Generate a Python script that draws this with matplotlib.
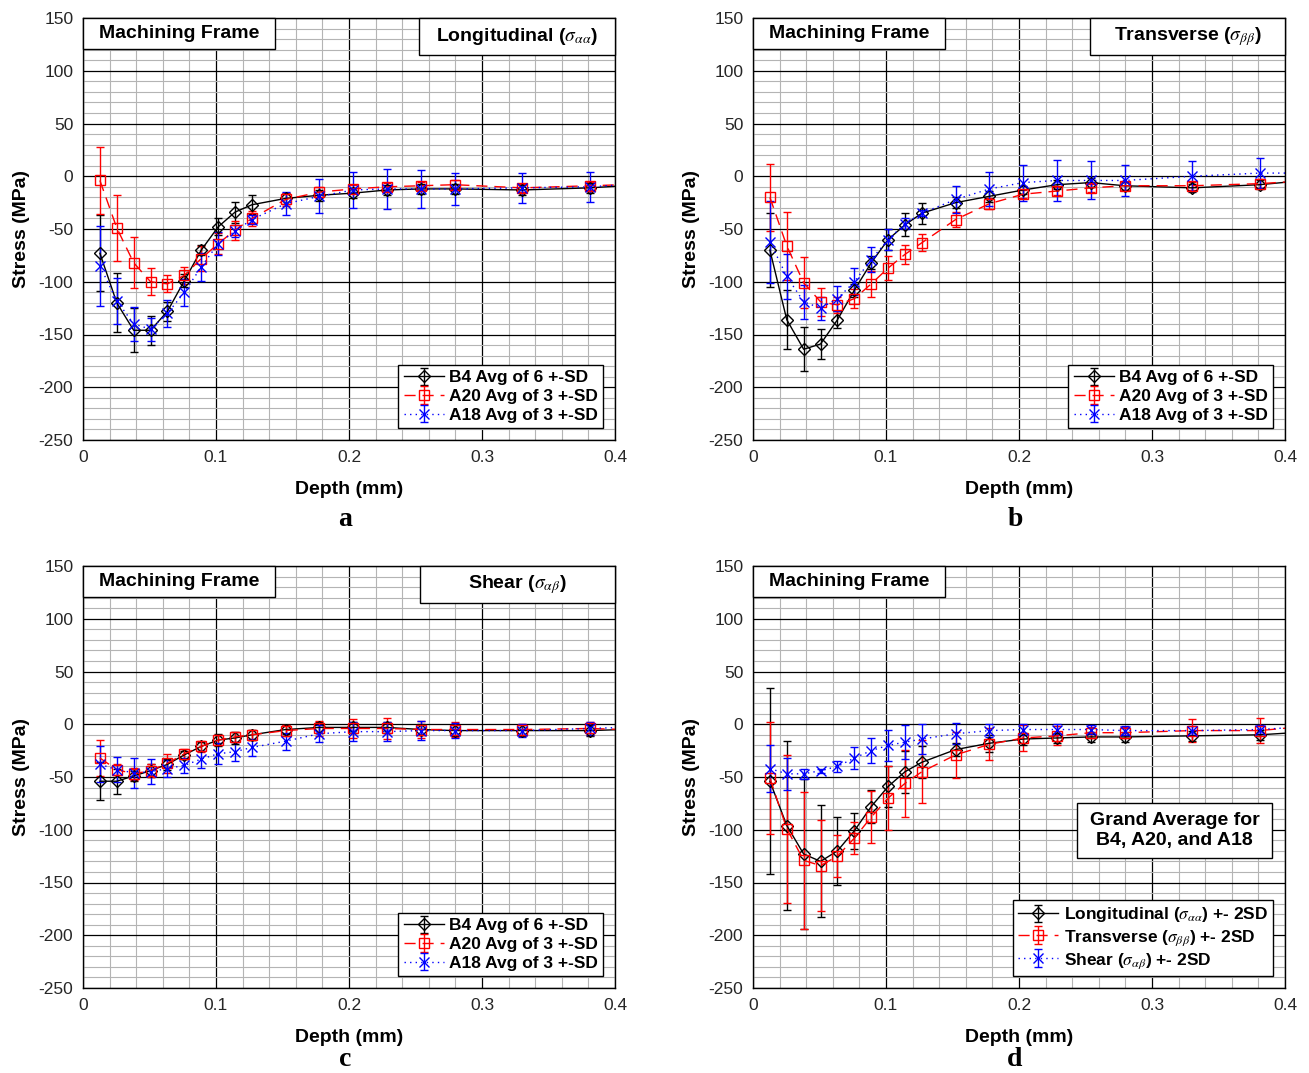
import matplotlib
matplotlib.use('Agg')
import matplotlib.pyplot as plt
from matplotlib.ticker import MultipleLocator
from matplotlib.patches import Rectangle

plt.rcParams['font.family'] = ['Liberation Sans', 'DejaVu Sans']
plt.rcParams['mathtext.fontset'] = 'stix'
plt.rcParams['axes.unicode_minus'] = False

# depth of each measurement (mm); last point lies past the axis limit
depth = [0.0127, 0.0254, 0.0381, 0.0508, 0.0635, 0.0762, 0.0889, 0.1016, 0.1143, 0.1270,
         0.1524, 0.1778, 0.2032, 0.2286, 0.2540, 0.2794, 0.3302, 0.3810, 0.4064]

x_ticks = [0, 0.1, 0.2, 0.3, 0.4]
x_ticklabels = ['0', '0.1', '0.2', '0.3', '0.4']

# a - longitudinal
b4_long = [-73, -120, -146, -146, -128, -99, -70, -48, -34, -27, -21, -18, -16, -13, -12, -12, -13, -11, -9]
b4_long_sd = [36, 28, 21, 14, 9, 6, 5, 8, 10, 9, 5, 5, 5, 5, 5, 5, 5, 5, 0]
a20_long = [-4, -49, -82, -100, -102, -94, -78, -64, -51, -40, -22, -15, -12, -10, -9, -8, -11, -9, -8]
a20_long_sd = [32, 31, 24, 13, 8, 8, 12, 10, 9, 7, 6, 5, 4, 4, 4, 4, 4, 4, 0]
a18_long = [-85, -118, -140, -145, -130, -110, -86, -64, -52, -41, -26, -19, -13, -12, -12, -12, -11, -10, -8]
a18_long_sd = [38, 22, 16, 11, 13, 13, 13, 11, 6, 4, 11, 16, 17, 19, 18, 15, 14, 14, 0]

# b - transverse
b4_trans = [-70, -136, -164, -159, -136, -108, -82, -60, -46, -35, -25, -19, -13, -8, -6, -9, -11, -8, -5]
b4_trans_sd = [35, 28, 21, 14, 8, 6, 6, 10, 11, 10, 5, 5, 4, 4, 4, 4, 4, 4, 0]
a20_trans = [-20, -66, -101, -119, -122, -116, -102, -87, -74, -63, -41, -26, -17, -14, -11, -9, -9, -7, -5]
a20_trans_sd = [32, 32, 24, 13, 8, 9, 12, 11, 9, 8, 7, 5, 4, 4, 4, 4, 4, 4, 0]
a18_trans = [-62, -95, -119, -125, -116, -100, -79, -60, -45, -35, -22, -12, -6, -4, -4, -4, 0, 3, 3]
a18_trans_sd = [39, 21, 16, 11, 12, 13, 12, 10, 5, 3, 13, 16, 17, 19, 18, 15, 14, 14, 0]

# c - shear
b4_shear = [-54, -54, -49, -44, -38, -29, -21, -15, -13, -10, -5, -3, -3, -3, -5, -6, -6, -6, -5]
b4_shear_sd = [18, 12, 5, 6, 5, 4, 4, 6, 6, 5, 4, 5, 5, 5, 5, 5, 5, 5, 0]
a20_shear = [-32, -43, -47, -44, -37, -28, -21, -15, -12, -10, -6, -4, -4, -4, -5, -5, -5, -4, -5]
a20_shear_sd = [17, 5, 6, 6, 9, 5, 5, 5, 5, 5, 5, 7, 9, 10, 8, 7, 5, 6, 0]
a18_shear = [-38, -43, -46, -45, -42, -39, -33, -28, -26, -22, -16, -9, -7, -7, -6, -6, -6, -4, -3]
a18_shear_sd = [17, 12, 14, 12, 8, 7, 8, 10, 9, 8, 8, 8, 9, 9, 9, 7, 6, 6, 0]

# d - grand average (+- 2SD)
long_avg = [-54, -96, -123, -130, -120, -101, -78, -59, -45, -36, -24, -18, -14, -13, -12, -12, -11, -10, -8]
long_2sd = [88, 80, 71, 53, 32, 17, 16, 19, 20, 15, 6, 8, 6, 5, 5, 5, 5, 5, 0]
trans_avg = [-51, -99, -129, -134, -125, -108, -88, -70, -56, -45, -29, -19, -13, -11, -8, -8, -6, -6, -3]
trans_2sd = [53, 70, 65, 43, 20, 15, 25, 30, 32, 30, 22, 15, 12, 9, 5, 5, 11, 12, 0]
shear_avg = [-42, -47, -47, -44, -40, -32, -25, -20, -17, -14, -9, -6, -5, -5, -5, -6, -6, -5, -3]
shear_2sd = [22, 15, 5, 2, 5, 10, 12, 15, 16, 14, 10, 6, 5, 5, 4, 4, 4, 4, 0]

sample_labels = ['B4 Avg of 6 +-SD', 'A20 Avg of 3 +-SD', 'A18 Avg of 3 +-SD']
grand_labels = [r'Longitudinal ($\sigma_{\alpha\alpha}$) +- 2SD',
                r'Transverse ($\sigma_{\beta\beta}$) +- 2SD',
                r'Shear ($\sigma_{\alpha\beta}$) +- 2SD']

styles = [dict(color='black', ls='-', marker='D', ms=6.5),
          dict(color='red', ls=(0, (8, 5)), marker='s', ms=6.5),
          dict(color='blue', ls=(0, (1, 3)), marker='x', ms=6.5)]

fig = plt.figure(figsize=(13.09, 10.73), dpi=100)
W, H = 1309, 1073


def make_ax(left, top):
    ax = fig.add_axes([left / W, 1 - (top + 422) / H, 532 / W, 422 / H])
    ax.set_xlim(0, 0.4)
    ax.set_ylim(-250, 150)
    ax.set_xticks(x_ticks, labels=x_ticklabels)
    ax.xaxis.set_minor_locator(MultipleLocator(0.02))
    ax.yaxis.set_major_locator(MultipleLocator(50))
    ax.yaxis.set_minor_locator(MultipleLocator(10))
    ax.grid(which='minor', color='#b4b4b4', lw=0.8)
    ax.grid(which='major', color='black', lw=0.9)
    ax.set_axisbelow(True)
    ax.tick_params(which='both', length=0, labelsize=12.5, labelcolor='#262626', pad=7)
    ax.set_xlabel('Depth (mm)', fontsize=14, fontweight='bold', labelpad=12)
    ax.set_ylabel('Stress (MPa)', fontsize=14, fontweight='bold', labelpad=6)
    for s in ax.spines.values():
        s.set_linewidth(1.0)
    return ax


def box(ax, x0, y0, w, h, text, size=14):
    ax.add_patch(Rectangle((x0, y0), w, h, transform=ax.transAxes, facecolor='white',
                           edgecolor='black', lw=1.0, zorder=5, clip_on=False))
    ax.text(x0 + w / 2, y0 + h / 2, text, transform=ax.transAxes, ha='center', va='center',
            fontsize=size, fontweight='bold', zorder=6, linespacing=1.2)


def draw(ax, series, labels, legend_pad):
    handles = []
    for (y, e), st, lab in zip(series, styles, labels):
        h = ax.errorbar(depth, y, yerr=e, color=st['color'], ls=st['ls'], lw=1.0,
                        marker=st['marker'], ms=st['ms'], mfc='none', mec=st['color'],
                        mew=1.0, capsize=3.2, elinewidth=1.0, capthick=1.0, label=lab)
        handles.append(h)
    leg = ax.legend(handles=handles, loc='lower right', fontsize=12.5, frameon=True,
                    fancybox=False, edgecolor='black', framealpha=1, borderaxespad=legend_pad,
                    handlelength=2.3, handletextpad=0.3, labelspacing=0.2, borderpad=0.3)
    leg.get_frame().set_linewidth(1.0)
    for t in leg.get_texts():
        t.set_fontweight('bold')
    leg.set_zorder(7)


axa = make_ax(83, 18)
axb = make_ax(753, 18)
axc = make_ax(83, 566)
axd = make_ax(753, 566)

draw(axa, [(b4_long, b4_long_sd), (a20_long, a20_long_sd), (a18_long, a18_long_sd)], sample_labels, 0.7)
draw(axb, [(b4_trans, b4_trans_sd), (a20_trans, a20_trans_sd), (a18_trans, a18_trans_sd)], sample_labels, 0.7)
draw(axc, [(b4_shear, b4_shear_sd), (a20_shear, a20_shear_sd), (a18_shear, a18_shear_sd)], sample_labels, 0.7)
draw(axd, [(long_avg, long_2sd), (trans_avg, trans_2sd), (shear_avg, shear_2sd)], grand_labels, 0.7)

for ax in [axa, axb, axc, axd]:
    box(ax, 0.0, 1 - 31 / 422, 192 / 532, 31 / 422, 'Machining Frame')

box(axa, 1 - 196 / 532, 1 - 37 / 422, 196 / 532, 37 / 422, r'Longitudinal ($\sigma_{\alpha\alpha}$)')
box(axb, 1 - 195 / 532, 1 - 37 / 422, 195 / 532, 37 / 422, r'Transverse ($\sigma_{\beta\beta}$)')
box(axc, 1 - 195 / 532, 1 - 37 / 422, 195 / 532, 37 / 422, r'Shear ($\sigma_{\alpha\beta}$)')
box(axd, 324 / 532, 1 - 292 / 422, 195 / 532, 55 / 422, 'Grand Average for\nB4, A20, and A18')

for lab, x, y in [('a', 83 + 262, 520), ('b', 753 + 262, 520), ('c', 83 + 262, 1060), ('d', 753 + 262, 1060)]:
    fig.text(x / W, 1 - y / H, lab, ha='center', va='center', fontsize=20, fontweight='bold',
             family='Liberation Serif')

fig.savefig('out.png', dpi=100)
